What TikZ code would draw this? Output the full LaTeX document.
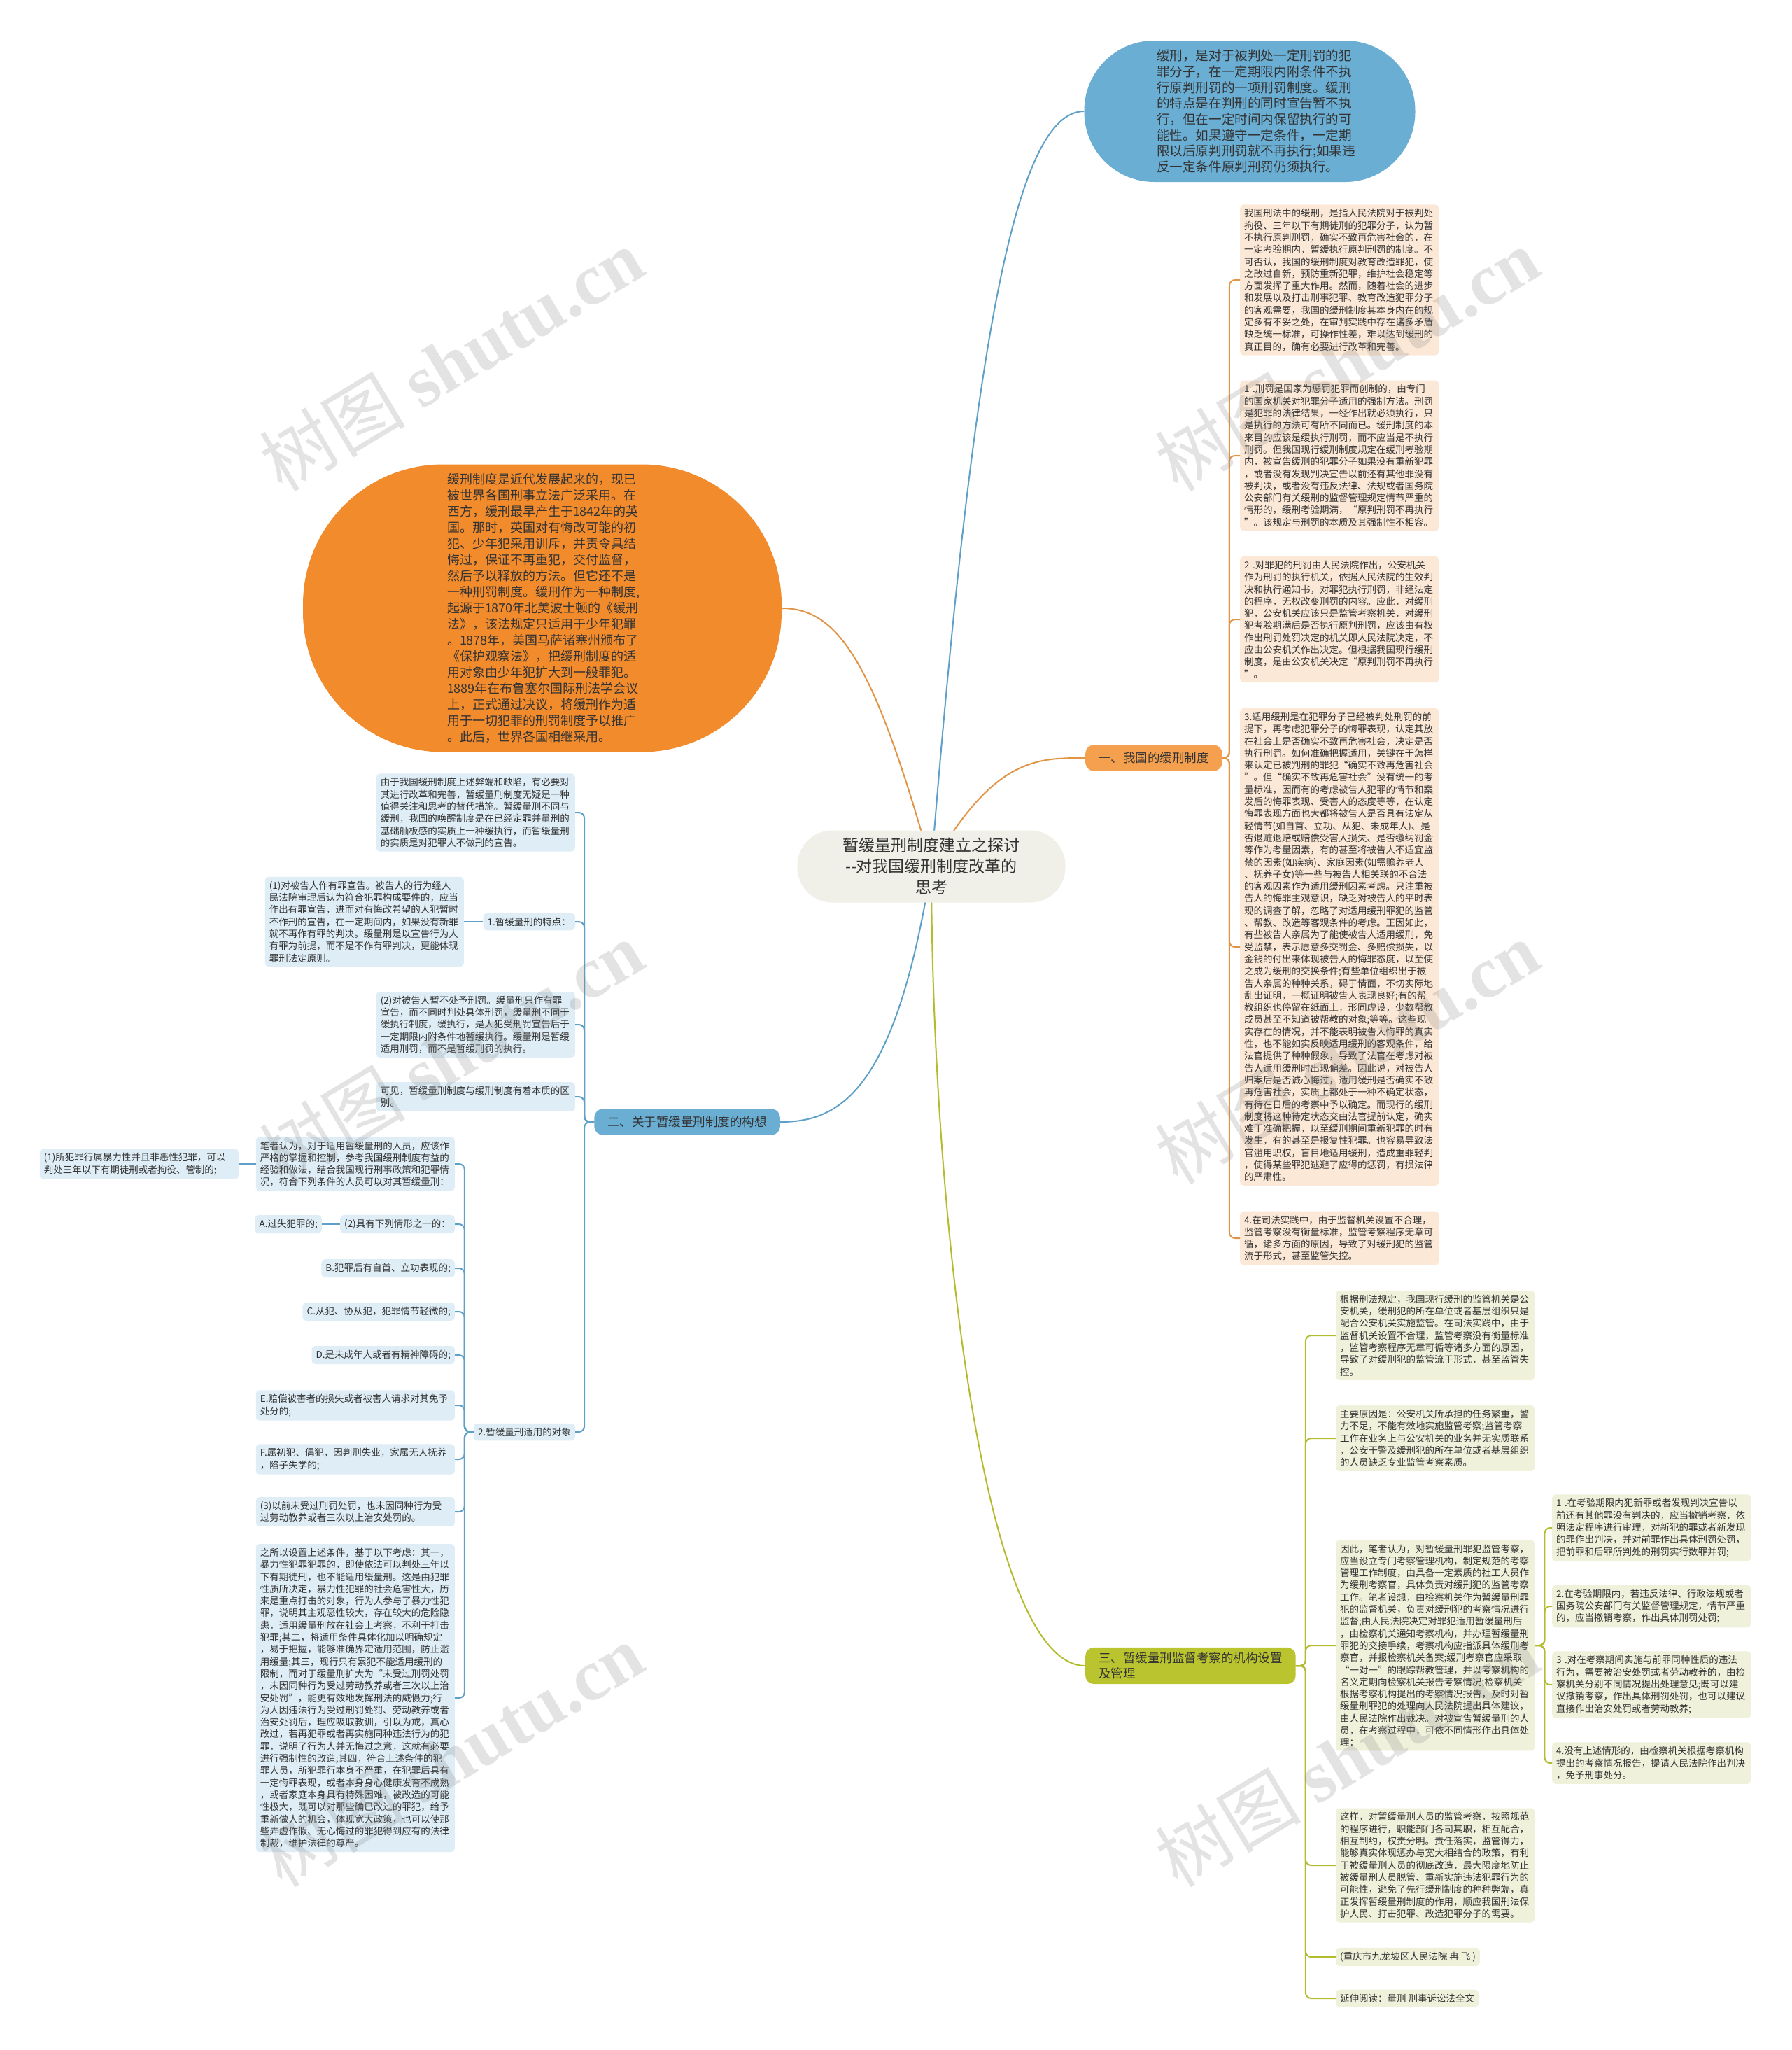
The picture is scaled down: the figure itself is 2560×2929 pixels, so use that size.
\documentclass[tikz,border=0pt]{standalone}
\usepackage{fontspec}
\usepackage{xcolor}
\usepackage{tikz}
\usetikzlibrary{backgrounds}
\newfontfamily\cjk{Noto Sans CJK SC}
\newfontfamily\markserif{Liberation Serif}
\definecolor{inkgrey}{RGB}{51,51,51}
\definecolor{skyfill}{RGB}{106,174,211}
\definecolor{amberfill}{RGB}{242,139,44}
\definecolor{amberbar}{RGB}{245,160,78}
\definecolor{olivebar}{RGB}{186,196,46}
\definecolor{corefill}{RGB}{240,240,232}
\definecolor{peachfill}{RGB}{252,232,214}
\definecolor{icefill}{RGB}{222,237,246}
\definecolor{olivefill}{RGB}{240,241,219}
\definecolor{amberline}{RGB}{226,148,70}
\definecolor{skyline}{RGB}{94,160,199}
\definecolor{oliveline}{RGB}{178,188,44}
% parent -> child over a vertical spine
\newcommand{\forkright}[4]{%
  \draw[#3] (#1.east) -- ++(#4,0) |- (#2.west);%
}
\newcommand{\forkleft}[4]{%
  \draw[#3] (#1.west) -- ++(-#4,0) |- (#2.east);%
}

\begin{document}
\begin{tikzpicture}[x=1pt,y=-1pt,
  every node/.style={text=inkgrey},
  leaf/.style={rounded corners=5pt,inner xsep=6pt,inner ysep=6pt,align=left,
    font={\cjk\fontsize{13.5pt}{17.3pt}\selectfont}},
  wideleaf/.style={leaf,text width=272pt},
  branchbox/.style={rounded corners=12pt,inner xsep=19pt,inner ysep=7pt,minimum height=37pt,
    align=left,font={\cjk\fontsize{17.5pt}{22pt}\selectfont}},
  trunk/.style={line width=2pt},
  amberfork/.style={draw=amberline,line width=2pt,rounded corners=8pt},
  skyfork/.style={draw=skyline,line width=2pt,rounded corners=8pt},
  olivefork/.style={draw=oliveline,line width=2pt,rounded corners=8pt},
  watermark/.style={text=gray,opacity=0.22,rotate=31,font={\cjk\fontsize{104pt}{104pt}\selectfont}}]
\useasboundingbox (0,0) rectangle (2560,2929);

% centre and the two large notes
\node[fill=corefill,rounded corners=50pt,minimum width=383pt,minimum height=103pt,align=center,
  font={\cjk\fontsize{23pt}{30pt}\selectfont}] (core) at (1331,1238)
  {暂缓量刑制度建立之探讨\\-{}-对我国缓刑制度改革的\\思考};
\node[fill=skyfill,rounded corners=100pt,minimum width=473pt,minimum height=202pt,text width=266pt,
  align=left,font={\cjk\fontsize{18.6pt}{22.7pt}\selectfont}] (sense) at (1786,159)
  {缓刑，是对于被判处一定刑罚的犯\\
   罪分子，在一定期限内附条件不执\\
   行原判刑罚的一项刑罚制度。缓刑\\
   的特点是在判刑的同时宣告暂不执\\
   行，但在一定时间内保留执行的可\\
   能性。如果遵守一定条件，一定期\\
   限以后原判刑罚就不再执行;如果违\\
   反一定条件原判刑罚仍须执行。};
\node[fill=amberfill,rounded corners=200pt,minimum width=684pt,minimum height=411pt,text width=272pt,
  align=left,font={\cjk\fontsize{18pt}{23pt}\selectfont}] (history) at (775,869)
  {缓刑制度是近代发展起来的，现已\\
   被世界各国刑事立法广泛采用。在\\
   西方，缓刑最早产生于1842年的英\\
   国。那时，英国对有悔改可能的初\\
   犯、少年犯采用训斥，并责令具结\\
   悔过，保证不再重犯，交付监督，\\
   然后予以释放的方法。但它还不是\\
   一种刑罚制度。缓刑作为一种制度,\\
   起源于1870年北美波士顿的《缓刑\\
   法》，该法规定只适用于少年犯罪\\
   。1878年，美国马萨诸塞州颁布了\\
   《保护观察法》，把缓刑制度的适\\
   用对象由少年犯扩大到一般罪犯。\\
   1889年在布鲁塞尔国际刑法学会议\\
   上，正式通过决议，将缓刑作为适\\
   用于一切犯罪的刑罚制度予以推广\\
   。此后，世界各国相继采用。};

% branches
\node[branchbox,fill=amberbar,anchor=west] (b1) at (1551,1083) {一、我国的缓刑制度};
\node[branchbox,fill=skyfill,anchor=east] (b2) at (1115,1603) {二、关于暂缓量刑制度的构想};
\node[branchbox,fill=olivebar,anchor=west] (b3) at (1551,2380) {三、暂缓量刑监督考察的机构设置\\及管理};

% branch one
\node[wideleaf,fill=peachfill,anchor=west] (r1) at (1772,400)
  {我国刑法中的缓刑，是指人民法院对于被判处\\
   拘役、三年以下有期徒刑的犯罪分子，认为暂\\
   不执行原判刑罚，确实不致再危害社会的，在\\
   一定考验期内，暂缓执行原判刑罚的制度。不\\
   可否认，我国的缓刑制度对教育改造罪犯，使\\
   之改过自新，预防重新犯罪，维护社会稳定等\\
   方面发挥了重大作用。然而，随着社会的进步\\
   和发展以及打击刑事犯罪、教育改造犯罪分子\\
   的客观需要，我国的缓刑制度其本身内在的规\\
   定多有不妥之处，在审判实践中存在诸多矛盾\\
   缺乏统一标准，可操作性差，难以达到缓刑的\\
   真正目的，确有必要进行改革和完善。};
\node[wideleaf,fill=peachfill,anchor=west] (r2) at (1772,651)
  {1 .刑罚是国家为惩罚犯罪而创制的，由专门\\
   的国家机关对犯罪分子适用的强制方法。刑罚\\
   是犯罪的法律结果，一经作出就必须执行，只\\
   是执行的方法可有所不同而已。缓刑制度的本\\
   来目的应该是缓执行刑罚，而不应当是不执行\\
   刑罚。但我国现行缓刑制度规定在缓刑考验期\\
   内，被宣告缓刑的犯罪分子如果没有重新犯罪\\
   ，或者没有发现判决宣告以前还有其他罪没有\\
   被判决，或者没有违反法律、法规或者国务院\\
   公安部门有关缓刑的监督管理规定情节严重的\\
   情形的，缓刑考验期满，“原判刑罚不再执行\\
   ”。该规定与刑罚的本质及其强制性不相容。};
\node[wideleaf,fill=peachfill,anchor=west] (r3) at (1772,885)
  {2 .对罪犯的刑罚由人民法院作出，公安机关\\
   作为刑罚的执行机关，依据人民法院的生效判\\
   决和执行通知书，对罪犯执行刑罚，非经法定\\
   的程序，无权改变刑罚的内容。应此，对缓刑\\
   犯，公安机关应该只是监管考察机关，对缓刑\\
   犯考验期满后是否执行原判刑罚，应该由有权\\
   作出刑罚处罚决定的机关即人民法院决定，不\\
   应由公安机关作出决定。但根据我国现行缓刑\\
   制度，是由公安机关决定“原判刑罚不再执行\\
   ”。};
\node[wideleaf,fill=peachfill,anchor=west] (r4) at (1772,1353)
  {3.适用缓刑是在犯罪分子已经被判处刑罚的前\\
   提下，再考虑犯罪分子的悔罪表现，认定其放\\
   在社会上是否确实不致再危害社会，决定是否\\
   执行刑罚。如何准确把握适用，关键在于怎样\\
   来认定已被判刑的罪犯“确实不致再危害社会\\
   ”。但“确实不致再危害社会”没有统一的考\\
   量标准，因而有的考虑被告人犯罪的情节和案\\
   发后的悔罪表现、受害人的态度等等，在认定\\
   悔罪表现方面也大都将被告人是否具有法定从\\
   轻情节(如自首、立功、从犯、未成年人)、是\\
   否退赃退赔或赔偿受害人损失、是否缴纳罚金\\
   等作为考量因素，有的甚至将被告人不适宜监\\
   禁的因素(如疾病)、家庭因素(如需赡养老人\\
   、抚养子女)等一些与被告人相关联的不合法\\
   的客观因素作为适用缓刑因素考虑。只注重被\\
   告人的悔罪主观意识，缺乏对被告人的平时表\\
   现的调查了解，忽略了对适用缓刑罪犯的监管\\
   、帮教、改造等客观条件的考虑。正因如此，\\
   有些被告人亲属为了能使被告人适用缓刑，免\\
   受监禁，表示愿意多交罚金、多赔偿损失，以\\
   金钱的付出来体现被告人的悔罪态度，以至使\\
   之成为缓刑的交换条件;有些单位组织出于被\\
   告人亲属的种种关系，碍于情面，不切实际地\\
   乱出证明，一概证明被告人表现良好;有的帮\\
   教组织也停留在纸面上，形同虚设，少数帮教\\
   成员甚至不知道被帮教的对象;等等。这些现\\
   实存在的情况，并不能表明被告人悔罪的真实\\
   性，也不能如实反映适用缓刑的客观条件，给\\
   法官提供了种种假象，导致了法官在考虑对被\\
   告人适用缓刑时出现偏差。因此说，对被告人\\
   归案后是否诚心悔过，适用缓刑是否确实不致\\
   再危害社会，实质上都处于一种不确定状态，\\
   有待在日后的考察中予以确定。而现行的缓刑\\
   制度将这种待定状态交由法官提前认定，确实\\
   难于准确把握，以至缓刑期间重新犯罪的时有\\
   发生，有的甚至是报复性犯罪。也容易导致法\\
   官滥用职权，盲目地适用缓刑，造成重罪轻判\\
   ，使得某些罪犯逃避了应得的惩罚，有损法律\\
   的严肃性。};
\node[wideleaf,fill=peachfill,anchor=west] (r5) at (1772,1769)
  {4.在司法实践中，由于监督机关设置不合理，\\
   监管考察没有衡量标准，监管考察程序无章可\\
   循，诸多方面的原因，导致了对缓刑犯的监管\\
   流于形式，甚至监管失控。};

% branch two
\node[wideleaf,fill=icefill,anchor=east] (why) at (822,1161)
  {由于我国缓刑制度上述弊端和缺陷，有必要对\\
   其进行改革和完善，暂缓量刑制度无疑是一种\\
   值得关注和思考的替代措施。暂缓量刑不同与\\
   缓刑，我国的唤醒制度是在已经定罪并量刑的\\
   基础舢板感的实质上一种缓执行，而暂缓量刑\\
   的实质是对犯罪人不做刑的宣告。};
\node[leaf,fill=icefill,anchor=east] (feat) at (822,1317) {1.暂缓量刑的特点：};
\node[wideleaf,fill=icefill,anchor=east] (featone) at (663,1317)
  {(1)对被告人作有罪宣告。被告人的行为经人\\
   民法院审理后认为符合犯罪构成要件的，应当\\
   作出有罪宣告，进而对有悔改希望的人犯暂时\\
   不作刑的宣告，在一定期间内，如果没有新罪\\
   就不再作有罪的判决。缓量刑是以宣告行为人\\
   有罪为前提，而不是不作有罪判决，更能体现\\
   罪刑法定原则。};
\node[wideleaf,fill=icefill,anchor=east] (feattwo) at (822,1464)
  {(2)对被告人暂不处予刑罚。缓量刑只作有罪\\
   宣告，而不同时判处具体刑罚，缓量刑不同于\\
   缓执行制度，缓执行，是人犯受刑罚宣告后于\\
   一定期限内附条件地暂缓执行。缓量刑是暂缓\\
   适用刑罚，而不是暂缓刑罚的执行。};
\node[wideleaf,fill=icefill,anchor=east] (differ) at (822,1567)
  {可见，暂缓量刑制度与缓刑制度有着本质的区\\
   别。};
\node[leaf,fill=icefill,anchor=east] (obj) at (822,2046) {2.暂缓量刑适用的对象};

\node[wideleaf,fill=icefill,anchor=east] (cond) at (650,1663)
  {笔者认为，对于适用暂缓量刑的人员，应该作\\
   严格的掌握和控制，参考我国缓刑制度有益的\\
   经验和做法，结合我国现行刑事政策和犯罪情\\
   况，符合下列条件的人员可以对其暂缓量刑：};
\node[wideleaf,fill=icefill,anchor=east] (condone) at (341,1663)
  {(1)所犯罪行属暴力性并且非恶性犯罪，可以\\
   判处三年以下有期徒刑或者拘役、管制的;};
\node[leaf,fill=icefill,anchor=east] (condtwo) at (650,1749) {(2)具有下列情形之一的：};
\node[leaf,fill=icefill,anchor=east] (conda) at (460,1749) {A.过失犯罪的;};
\node[leaf,fill=icefill,anchor=east] (condb) at (650,1812) {B.犯罪后有自首、立功表现的;};
\node[leaf,fill=icefill,anchor=east] (condc) at (650,1874) {C.从犯、协从犯，犯罪情节轻微的;};
\node[leaf,fill=icefill,anchor=east] (condd) at (650,1936) {D.是未成年人或者有精神障碍的;};
\node[wideleaf,fill=icefill,anchor=east] (conde) at (650,2008)
  {E.赔偿被害者的损失或者被害人请求对其免予\\处分的;};
\node[wideleaf,fill=icefill,anchor=east] (condf) at (650,2085)
  {F.属初犯、偶犯，因判刑失业，家属无人抚养\\，陷子失学的;};
\node[wideleaf,fill=icefill,anchor=east] (condthree) at (650,2160)
  {(3)以前未受过刑罚处罚，也未因同种行为受\\过劳动教养或者三次以上治安处罚的。};
\node[wideleaf,fill=icefill,anchor=east] (reason) at (650,2426)
  {之所以设置上述条件，基于以下考虑：其一，\\
   暴力性犯罪犯罪的，即使依法可以判处三年以\\
   下有期徒刑，也不能适用缓量刑。这是由犯罪\\
   性质所决定，暴力性犯罪的社会危害性大，历\\
   来是重点打击的对象，行为人参与了暴力性犯\\
   罪，说明其主观恶性较大，存在较大的危险隐\\
   患，适用缓量刑放在社会上考察，不利于打击\\
   犯罪;其二，将适用条件具体化加以明确规定\\
   ，易于把握，能够准确界定适用范围，防止滥\\
   用缓量;其三，现行只有累犯不能适用缓刑的\\
   限制，而对于缓量刑扩大为“未受过刑罚处罚\\
   ，未因同种行为受过劳动教养或者三次以上治\\
   安处罚”，能更有效地发挥刑法的威慑力;行\\
   为人因违法行为受过刑罚处罚、劳动教养或者\\
   治安处罚后，理应吸取教训，引以为戒，真心\\
   改过，若再犯罪或者再实施同种违法行为的犯\\
   罪，说明了行为人并无悔过之意，这就有必要\\
   进行强制性的改造;其四，符合上述条件的犯\\
   罪人员，所犯罪行本身不严重，在犯罪后具有\\
   一定悔罪表现，或者本身身心健康发育不成熟\\
   ，或者家庭本身具有特殊困难，被改造的可能\\
   性极大，既可以对那些确已改过的罪犯，给予\\
   重新做人的机会，体现宽大政策，也可以使那\\
   些弄虚作假、无心悔过的罪犯得到应有的法律\\
   制裁，维护法律的尊严。};

% branch three
\node[wideleaf,fill=olivefill,anchor=west] (g1) at (1909,1908)
  {根据刑法规定，我国现行缓刑的监管机关是公\\
   安机关，缓刑犯的所在单位或者基层组织只是\\
   配合公安机关实施监管。在司法实践中，由于\\
   监督机关设置不合理，监管考察没有衡量标准\\
   ，监管考察程序无章可循等诸多方面的原因，\\
   导致了对缓刑犯的监管流于形式，甚至监管失\\
   控。};
\node[wideleaf,fill=olivefill,anchor=west] (g2) at (1909,2055)
  {主要原因是：公安机关所承担的任务繁重，警\\
   力不足，不能有效地实施监管考察;监管考察\\
   工作在业务上与公安机关的业务并无实质联系\\
   ，公安干警及缓刑犯的所在单位或者基层组织\\
   的人员缺乏专业监管考察素质。};
\node[wideleaf,fill=olivefill,anchor=west] (g3) at (1909,2351)
  {因此，笔者认为，对暂缓量刑罪犯监管考察，\\
   应当设立专门考察管理机构，制定规范的考察\\
   管理工作制度，由具备一定素质的社工人员作\\
   为缓刑考察官，具体负责对缓刑犯的监管考察\\
   工作。笔者设想，由检察机关作为暂缓量刑罪\\
   犯的监督机关，负责对缓刑犯的考察情况进行\\
   监督;由人民法院决定对罪犯适用暂缓量刑后\\
   ，由检察机关通知考察机构，并办理暂缓量刑\\
   罪犯的交接手续，考察机构应指派具体缓刑考\\
   察官，并报检察机关备案;缓刑考察官应采取\\
   “一对一”的跟踪帮教管理，并以考察机构的\\
   名义定期向检察机关报告考察情况;检察机关\\
   根据考察机构提出的考察情况报告，及时对暂\\
   缓量刑罪犯的处理向人民法院提出具体建议，\\
   由人民法院作出裁决。对被宣告暂缓量刑的人\\
   员，在考察过程中，可依不同情形作出具体处\\
   理：};
\node[wideleaf,fill=olivefill,anchor=west] (g4) at (1909,2665)
  {这样，对暂缓量刑人员的监管考察，按照规范\\
   的程序进行，职能部门各司其职，相互配合，\\
   相互制约，权责分明。责任落实，监管得力，\\
   能够真实体现惩办与宽大相结合的政策，有利\\
   于被缓量刑人员的彻底改造，最大限度地防止\\
   被缓量刑人员脱管、重新实施违法犯罪行为的\\
   可能性，避免了先行缓刑制度的种种弊端，真\\
   正发挥暂缓量刑制度的作用，顺应我国刑法保\\
   护人民、打击犯罪、改造犯罪分子的需要。};
\node[leaf,fill=olivefill,anchor=west] (g5) at (1909,2796) {(重庆市九龙坡区人民法院 冉 飞 )};
\node[leaf,fill=olivefill,anchor=west] (g6) at (1909,2855) {延伸阅读：量刑 刑事诉讼法全文};

\node[wideleaf,fill=olivefill,anchor=west] (h1) at (2218,2183)
  {1 .在考验期限内犯新罪或者发现判决宣告以\\
   前还有其他罪没有判决的，应当撤销考察，依\\
   照法定程序进行审理，对新犯的罪或者新发现\\
   的罪作出判决，并对前罪作出具体刑罚处罚，\\
   把前罪和后罪所判处的刑罚实行数罪并罚;};
\node[wideleaf,fill=olivefill,anchor=west] (h2) at (2218,2295)
  {2.在考验期限内，若违反法律、行政法规或者\\
   国务院公安部门有关监督管理规定，情节严重\\
   的，应当撤销考察，作出具体刑罚处罚;};
\node[wideleaf,fill=olivefill,anchor=west] (h3) at (2218,2407)
  {3 .对在考察期间实施与前罪同种性质的违法\\
   行为，需要被治安处罚或者劳动教养的，由检\\
   察机关分别不同情况提出处理意见;既可以建\\
   议撤销考察，作出具体刑罚处罚，也可以建议\\
   直接作出治安处罚或者劳动教养;};
\node[wideleaf,fill=olivefill,anchor=west] (h4) at (2218,2519)
  {4.没有上述情形的，由检察机关根据考察机构\\
   提出的考察情况报告，提请人民法院作出判决\\
   ，免予刑事处分。};

% forks
\foreach \kid in {r1,r2,r3,r4,r5} {\forkright{b1}{\kid}{amberfork}{10}}
\foreach \kid in {why,feat,feattwo,differ,obj} {\forkleft{b2}{\kid}{skyfork}{14}}
\foreach \kid in {cond,condtwo,condb,condc,condd,conde,condf,condthree,reason} {\forkleft{obj}{\kid}{skyfork}{13}}
\foreach \kid in {g1,g2,g3,g4,g5,g6} {\forkright{b3}{\kid}{olivefork}{14}}
\foreach \kid in {h1,h2,h3,h4} {\forkright{g3}{\kid}{olivefork}{14}}
\draw[skyfork] (feat.west) -- (featone.east);
\draw[skyfork] (cond.west) -- (condone.east);
\draw[skyfork] (condtwo.west) -- (conda.east);

\begin{pgfonlayer}{background}
  \fill[white] (0,0) rectangle (2560,2929);
  \draw[trunk,skyline] (core.center) .. controls (1390,500) and (1450,159) .. (sense.west);
  \draw[trunk,amberline] (core.center) .. controls (1250,950) and (1200,869) .. (history.east);
  \draw[trunk,amberline] (core.center) .. controls (1420,1083) and (1480,1083) .. (b1.west);
  \draw[trunk,skyline] (core.center) .. controls (1280,1560) and (1200,1603) .. (b2.east);
  \draw[trunk,oliveline] (core.center) .. controls (1331,1700) and (1400,2380) .. (b3.west);
\end{pgfonlayer}

% watermarks
\foreach \wx/\wy [count=\wi] in {645/514,1925/514,645/1504,1925/1504,645/2508,1925/2508}
  \node[watermark] (wm\wi) at (\wx,\wy) {树图 {\markserif\bfseries shutu.cn}};
\end{tikzpicture}
\end{document}
